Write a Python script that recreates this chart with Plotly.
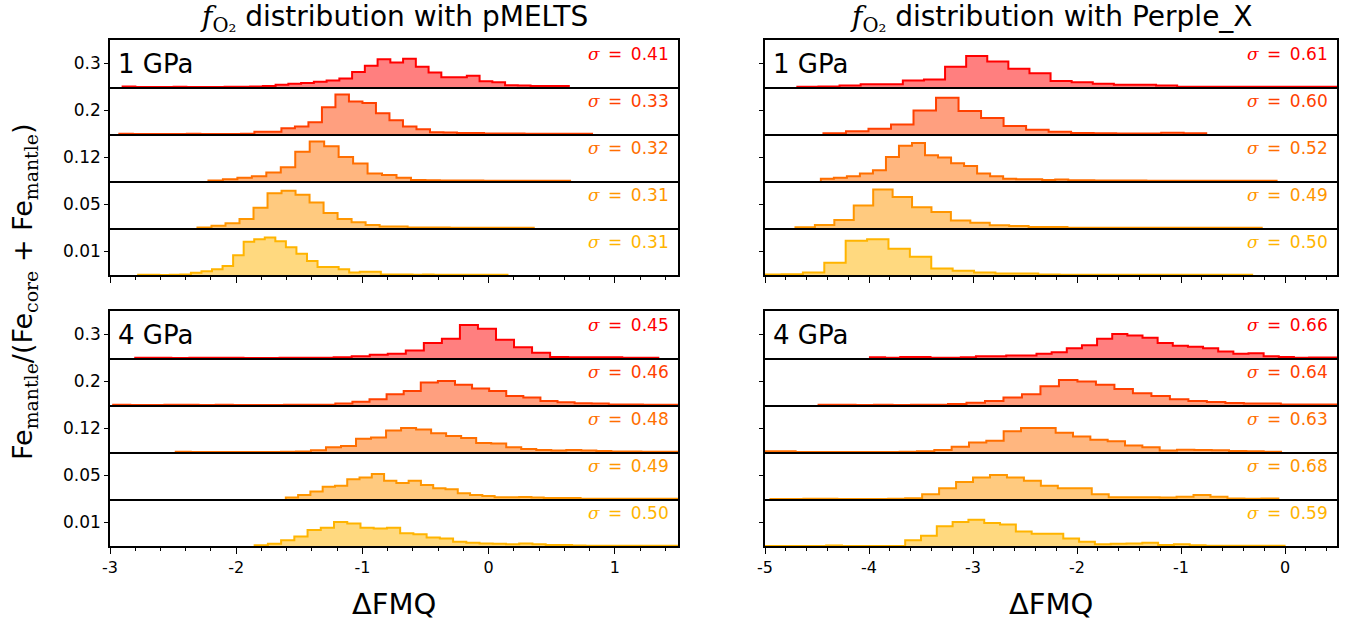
import numpy as np
import plotly.graph_objects as go

# ---------------- data (heights, per row: 0.3, 0.2, 0.12, 0.05, 0.01) -------------
row_labels = ["0.3", "0.2", "0.12", "0.05", "0.01"]
left_ticks = [-3, -2, -1, 0, 1]
right_ticks = [-5, -4, -3, -2, -1, 0]

# pMELTS, 1 GPa
pm1_start = [-2.900, -2.926, -2.220, -2.307, -2.777]
pm1_width = [0.1010, 0.1070, 0.1146, 0.1110, 0.0836]
pm1_heights = [
    [0.01, 0, 0, 0, 0.005, 0, 0, 0, 0.005, 0.005, 0.01, 0.02, 0.05, 0.07, 0.085, 0.11, 0.14, 0.18, 0.32, 0.45,
     0.59, 0.52, 0.6, 0.43, 0.31, 0.21, 0.21, 0.24, 0.12, 0.10, 0.035, 0.03, 0.02, 0.02, 0.02],
    [0.005, 0, 0, 0, 0, 0.005, 0, 0, 0, 0.005, 0.05, 0.05, 0.12, 0.16, 0.25, 0.57, 0.84, 0.69, 0.66, 0.44,
     0.29, 0.16, 0.1, 0.035, 0.03, 0.02, 0.02, 0.01, 0.01, 0.01, 0.005, 0.005, 0.005, 0.005, 0.005],
    [0.01, 0.035, 0.07, 0.1, 0.18, 0.29, 0.62, 0.84, 0.74, 0.51, 0.37, 0.16, 0.13, 0.07, 0.02, 0.015, 0.01,
     0.01, 0.01, 0.005, 0.005, 0.005, 0.005, 0.005, 0.005],
    [0.01, 0.05, 0.1, 0.19, 0.43, 0.74, 0.79, 0.71, 0.54, 0.32, 0.19, 0.12, 0.065, 0.03, 0.03, 0.01, 0.01,
     0.01, 0.005, 0.005, 0.005, 0.005, 0.005, 0.005],
    [0.005, 0.005, 0, 0.005, 0.01, 0.05, 0.08, 0.12, 0.19, 0.42, 0.71, 0.76, 0.8, 0.72, 0.59, 0.45, 0.3, 0.17,
     0.17, 0.12, 0.055, 0.07, 0.07, 0.01, 0.01, 0.01, 0.005, 0.01, 0.005, 0.005, 0.005, 0.005, 0.005, 0.005, 0.005],
]
pm1_sigma = ["0.41", "0.33", "0.32", "0.31", "0.31"]

# Perple_X, 1 GPa
px1_start = [-4.689, -4.438, -4.463, -4.707, -5.047]
px1_width = [0.2029, 0.2165, 0.1252, 0.1868, 0.2057]
px1_heights = [
    [0.005, 0.01, 0.03, 0.06, 0.06, 0.14, 0.16, 0.43, 0.66, 0.54, 0.39, 0.29, 0.13, 0.1, 0.07, 0.05, 0.05, 0.03,
     0.005, 0.005, 0.005, 0.005, 0.005, 0.005, 0.005, 0.005, 0.005],
    [0.015, 0.06, 0.11, 0.2, 0.5, 0.77, 0.49, 0.34, 0.17, 0.09, 0.05, 0.02, 0.015, 0.01, 0.01, 0.025, 0.015],
    [0.05, 0.07, 0.1, 0.16, 0.23, 0.51, 0.75, 0.81, 0.55, 0.5, 0.38, 0.32, 0.16, 0.1, 0.05, 0.035, 0.035, 0.02,
     0.03, 0.015, 0.015, 0.01, 0.01, 0.01, 0.01, 0.005, 0.005, 0.005, 0.005, 0.005, 0.005, 0.005, 0.005, 0.005, 0.005],
    [0.015, 0.065, 0.17, 0.48, 0.82, 0.66, 0.44, 0.34, 0.16, 0.11, 0.06, 0.045, 0.02, 0.02, 0.005, 0.005, 0.005,
     0.005, 0.005, 0.005, 0.005, 0.005, 0.005, 0.005],
    [0.01, 0.015, 0.055, 0.26, 0.73, 0.76, 0.56, 0.39, 0.14, 0.09, 0.055, 0.03, 0.03, 0.01, 0.005, 0.005, 0.005,
     0.005, 0.005, 0.005, 0.005, 0.005, 0.005],
]
px1_sigma = ["0.61", "0.60", "0.52", "0.49", "0.50"]

# pMELTS, 4 GPa
pm4_start = [-2.800, -2.975, -2.479, -1.607, -1.854]
pm4_width = [0.1429, 0.1354, 0.1190, 0.0973, 0.1048]
pm4_heights = [
    [0.005, 0.005, 0, 0.005, 0.005, 0.005, 0, 0, 0.005, 0.005, 0.005, 0.015, 0.035, 0.07, 0.09, 0.16, 0.32, 0.41,
     0.7, 0.62, 0.39, 0.23, 0.11, 0.02, 0.015, 0.015, 0.015, 0.005, 0.005],
    [0.005, 0, 0, 0.005, 0.005, 0, 0.005, 0, 0, 0, 0.005, 0.005, 0.005, 0.03, 0.07, 0.12, 0.23, 0.3, 0.48, 0.51,
     0.43, 0.35, 0.3, 0.19, 0.16, 0.085, 0.06, 0.035, 0.03, 0.01, 0.01, 0.005, 0.005],
    [0.005, 0, 0, 0, 0, 0, 0, 0.005, 0.01, 0.035, 0.1, 0.13, 0.28, 0.31, 0.46, 0.51, 0.48, 0.4, 0.34, 0.3, 0.19,
     0.18, 0.1, 0.065, 0.04, 0.03, 0.04, 0.03, 0.02, 0.01, 0.01, 0.005, 0.005, 0.005],
    [0.03, 0.085, 0.16, 0.26, 0.28, 0.42, 0.46, 0.53, 0.39, 0.34, 0.39, 0.3, 0.23, 0.21, 0.12, 0.085, 0.065, 0.035,
     0.035, 0.04, 0.03, 0.02, 0.02, 0.02, 0.005, 0.005, 0.005, 0.005, 0.005, 0.005, 0.005, 0.005],
    [0.015, 0.05, 0.12, 0.2, 0.34, 0.39, 0.51, 0.48, 0.39, 0.37, 0.39, 0.27, 0.25, 0.18, 0.16, 0.09, 0.07, 0.055,
     0.05, 0.035, 0.055, 0.035, 0.02, 0.02, 0.01, 0.005, 0.005, 0.005, 0.005, 0.005, 0.005, 0.005],
]
pm4_sigma = ["0.45", "0.46", "0.48", "0.49", "0.50"]

# Perple_X, 4 GPa
px4_start = [-3.991, -4.485, -5.039, -4.957, -5.020]
px4_width = [0.1456, 0.1778, 0.1667, 0.1631, 0.1520]
px4_heights = [
    [0.015, 0.005, 0.02, 0.02, 0.005, 0.005, 0.015, 0.035, 0.035, 0.055, 0.055, 0.09, 0.12, 0.21, 0.27, 0.41, 0.51,
     0.48, 0.43, 0.32, 0.26, 0.24, 0.21, 0.14, 0.09, 0.1, 0.035, 0.02, 0.005, 0.01, 0.01],
    [0.005, 0.005, 0, 0.005, 0, 0.005, 0.005, 0.02, 0.05, 0.085, 0.16, 0.23, 0.4, 0.53, 0.5, 0.43, 0.34, 0.25,
     0.19, 0.12, 0.085, 0.065, 0.045, 0.03, 0.03, 0.01, 0.01, 0.01],
    [0.015, 0.015, 0, 0, 0, 0, 0, 0, 0.005, 0.015, 0.045, 0.11, 0.2, 0.24, 0.44, 0.51, 0.51, 0.41, 0.33, 0.26,
     0.23, 0.14, 0.1, 0.03, 0.05, 0.045, 0.035, 0.02, 0.015, 0.005],
    [0, 0, 0.005, 0.005, 0, 0, 0, 0.005, 0.015, 0.1, 0.23, 0.36, 0.46, 0.51, 0.46, 0.39, 0.28, 0.23, 0.23, 0.1,
     0.035, 0.035, 0.035, 0.03, 0.05, 0.085, 0.05, 0.01, 0.005, 0.01],
    [0, 0, 0, 0, 0.01, 0, 0, 0, 0, 0.12, 0.22, 0.42, 0.51, 0.56, 0.49, 0.46, 0.31, 0.26, 0.26, 0.16, 0.09, 0.035,
     0.05, 0.055, 0.07, 0.02, 0.035, 0.015, 0.007, 0.007, 0.007, 0.007, 0.007],
]
px4_sigma = ["0.66", "0.64", "0.63", "0.68", "0.59"]

row_colors = [(255, 0, 0), (255, 64, 0), (255, 110, 0), (255, 150, 0), (255, 180, 0)]

panels = [
    dict(start=pm1_start, width=pm1_width, heights=pm1_heights, sigma=pm1_sigma, col=0, grp=0, label="1 GPa"),
    dict(start=px1_start, width=px1_width, heights=px1_heights, sigma=px1_sigma, col=1, grp=0, label="1 GPa"),
    dict(start=pm4_start, width=pm4_width, heights=pm4_heights, sigma=pm4_sigma, col=0, grp=1, label="4 GPa"),
    dict(start=px4_start, width=px4_width, heights=px4_heights, sigma=px4_sigma, col=1, grp=1, label="4 GPa"),
]

# ---------------- layout geometry (pixels) ----------------
W, H = 1357, 625
col_x = [(110, 678), (765, 1337)]
col_range = [(-3, 1.5), (-5, 0.5)]
col_ticks = [left_ticks, right_ticks]
grp_y = [(40, 275), (311, 546)]

FONT = "DejaVu Sans"
SERIF = "DejaVu Serif"


def serif(t):
    return f"<span style='font-family:{SERIF}'>{t}</span>"


fig = go.Figure()
layout = dict(
    width=W, height=H, margin=dict(l=0, r=0, t=0, b=0),
    paper_bgcolor="white", plot_bgcolor="rgba(0,0,0,0)",
    showlegend=False, font=dict(family=FONT, color="black"),
)
annotations = []

for p, pan in enumerate(panels):
    x0, x1 = col_x[pan["col"]]
    gy0, gy1 = grp_y[pan["grp"]]
    rh = (gy1 - gy0) / 5
    for r in range(5):
        i = p * 5 + r + 1
        xa = "x" if i == 1 else f"x{i}"
        ya = "y" if i == 1 else f"y{i}"
        top = gy0 + r * rh
        bot = top + rh
        c = row_colors[r]
        hts = np.array(pan["heights"][r], dtype=float)
        edges = pan["start"][r] + pan["width"][r] * np.arange(len(hts) + 1)
        xs = np.concatenate([[edges[0]], edges[:-1], [edges[-1], edges[-1]]])
        ys = np.concatenate([[0], hts, [hts[-1], 0]])
        fig.add_trace(go.Scatter(
            x=xs, y=ys, mode="lines", line=dict(shape="hv", color=f"rgb{c}", width=2),
            fill="tozeroy", fillcolor=f"rgba({c[0]},{c[1]},{c[2]},0.5)",
            xaxis=xa, yaxis=ya, hoverinfo="skip"))
        is_bottom = r == 4
        ticks = col_ticks[pan["col"]]
        xkw = dict(
            domain=[x0 / W, x1 / W], anchor=ya, range=list(col_range[pan["col"]]),
            showline=True, mirror=(r == 0), linecolor="black", linewidth=1.6,
            showgrid=False, zeroline=False, layer="above traces",
            ticks="outside" if is_bottom else "", ticklen=6, tickwidth=1, tickcolor="black",
            tickmode="array", tickvals=ticks, ticktext=[str(t) for t in ticks],
            showticklabels=is_bottom and pan["grp"] == 1,
            tickfont=dict(size=16, family=FONT),
            minor=dict(ticks="outside" if is_bottom else "", dtick=0.2, tick0=0, ticklen=3,
                       tickcolor="black", showgrid=False),
            automargin=False, fixedrange=True,
        )
        ykw = dict(
            domain=[1 - bot / H, 1 - top / H], anchor=xa, range=[0, 1],
            showline=True, mirror=True, linecolor="black", linewidth=1.6,
            showgrid=False, zeroline=False, layer="above traces",
            ticks="outside", ticklen=4, tickcolor="black",
            tickvals=[0.5], ticktext=[row_labels[r]],
            showticklabels=pan["col"] == 0,
            tickfont=dict(size=17, family=FONT),
            automargin=False, fixedrange=True,
        )
        layout["xaxis" if i == 1 else f"xaxis{i}"] = xkw
        layout["yaxis" if i == 1 else f"yaxis{i}"] = ykw
        annotations.append(dict(
            xref=f"{xa} domain", yref=f"{ya} domain", x=0.988, y=0.70,
            xanchor="right", yanchor="middle", showarrow=False,
            text=serif("<i>σ</i>") + "\u2002=\u2002" + pan["sigma"][r],
            font=dict(size=17, color=f"rgb{c}", family=FONT)))
        if r == 0:
            annotations.append(dict(
                xref=f"{xa} domain", yref=f"{ya} domain", x=0.011, y=0.5,
                xanchor="left", yanchor="middle", showarrow=False,
                text=pan["label"], font=dict(size=26, color="black", family=FONT)))

# titles and axis labels
fO2 = serif("<i>f</i><sub>O₂</sub>")
titles = [fO2 + " distribution with pMELTS", fO2 + " distribution with Perple_X"]
for k in range(2):
    cx = (col_x[k][0] + col_x[k][1]) / 2 / W
    annotations.append(dict(xref="paper", yref="paper", x=cx, y=1 - 18 / H, xanchor="center",
                            yanchor="middle", showarrow=False, text=titles[k],
                            font=dict(size=28, family=FONT)))
    annotations.append(dict(xref="paper", yref="paper", x=cx, y=1 - 604 / H, xanchor="center",
                            yanchor="middle", showarrow=False, text="ΔFMQ",
                            font=dict(size=29, family=FONT)))
annotations.append(dict(xref="paper", yref="paper", x=24 / W, y=1 - 292 / H, xanchor="center",
                        yanchor="middle", showarrow=False, textangle=-90,
                        text="Fe<sub>" + serif("mantle") + "</sub>/(Fe<sub>" + serif("core")
                             + "</sub> + Fe<sub>" + serif("mantle") + "</sub>)",
                        font=dict(size=27, family=FONT)))
layout["annotations"] = annotations
fig.update_layout(**layout)
fig.write_html("out.html", config={"displayModeBar": False},
               post_script="document.body.style.margin='0px';")
